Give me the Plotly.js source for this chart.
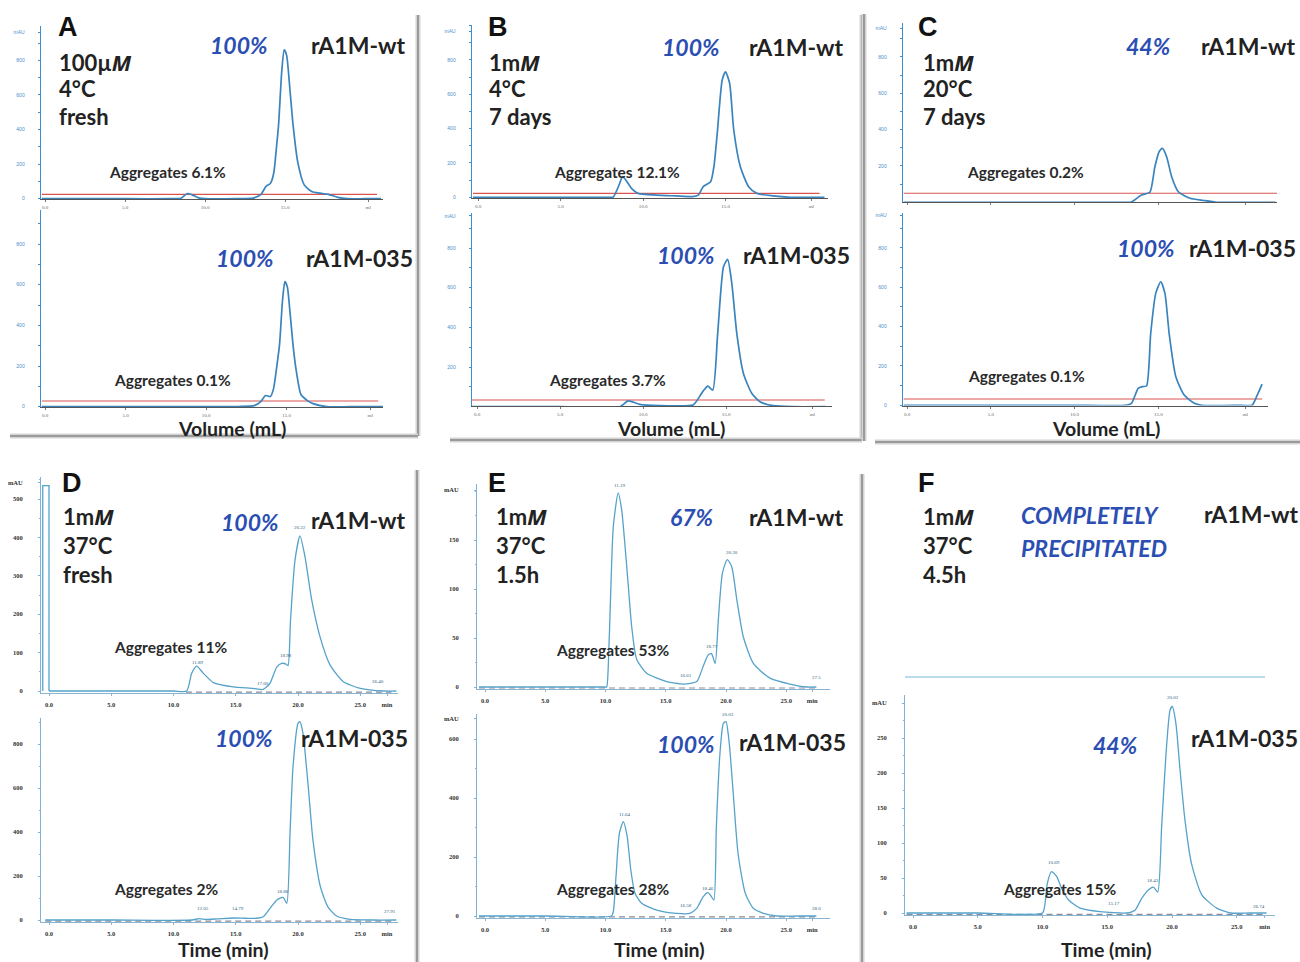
<!DOCTYPE html>
<html><head><meta charset="utf-8">
<script src="https://cdn.plot.ly/plotly-3.0.1.min.js"></script>
<style>html,body{margin:0;padding:0;background:#fff}#chart{width:1300px;height:962px}</style>
</head><body><div id="chart"></div>
<script>
// ================= DATA =================
// tick labels
const volTickVals = [0, 5, 10, 15, 20.2];
const volTickText = ['0.0', '5.0', '10.0', '15.0', 'ml'];
const timeTickVals = [0, 5, 10, 15, 20, 25, 27.15];
const timeTickText = ['0.0', '5.0', '10.0', '15.0', '20.0', '25.0', 'min'];
const yTicksVol = [0, 200, 400, 600, 800];
const yTicksD1 = [0, 100, 200, 300, 400, 500];
const yTicksD2 = [0, 200, 400, 600, 800];
const yTicksE1 = [0, 50, 100, 150];
const yTicksE2 = [0, 200, 400, 600];
const yTicksF2 = [0, 50, 100, 150, 200, 250];

// Panel A (100 µM, 4 °C, fresh) – volume (mL) vs mAU
const A1_x = [-0.2, 2, 5, 8.0, 8.5, 8.9, 9.2, 9.6, 10.0, 12.0, 13.0, 13.5, 13.8, 14.1, 14.3, 14.45, 14.6, 14.8, 14.95, 15.1, 15.3, 15.5, 15.8, 16.2, 16.7, 17.2, 17.7, 18.3, 18.9, 20, 21];
const A1_y = [0, 0, 0, 0, 2, 30, 22, 5, 0, 0, 3, 25, 70, 90, 150, 280, 430, 740, 860, 830, 640, 430, 210, 80, 40, 32, 25, 8, 0, 0, 0];
const A2_x = [-0.2, 5, 10, 12.0, 13.0, 13.4, 13.7, 14.0, 14.2, 14.4, 14.57, 14.75, 14.9, 15.05, 15.2, 15.4, 15.6, 15.9, 16.3, 16.65, 17.5, 19, 21];
const A2_y = [0, 0, 0, 1, 5, 25, 55, 50, 90, 200, 308, 520, 615, 590, 480, 308, 180, 60, 30, 15, 0, 0, 0];
// Panel B (1 mM, 4 °C, 7 days)
const B1_x = [-0.3, 5, 8.0, 8.2, 8.5, 8.77, 9.0, 9.3, 9.7, 10.8, 12.0, 13.0, 13.35, 13.65, 14.1, 14.3, 14.5, 14.8, 15.0, 15.25, 15.5, 15.9, 16.4, 16.9, 17.9, 18.9, 21];
const B1_y = [0, 0, 0, 2, 60, 120, 95, 52, 23, 13, 8, 4, 13, 62, 91, 180, 373, 683, 731, 664, 392, 178, 62, 23, 8, 0, 0];
const B2_x = [-0.3, 5, 8.6, 9.1, 9.8, 11, 13.0, 13.2, 13.6, 13.9, 14.2, 14.5, 14.85, 15.1, 15.35, 15.65, 16.05, 16.55, 17.05, 17.85, 19, 21];
const B2_y = [0, 0, 0, 29, 12, 6, 8, 25, 76, 104, 84, 371, 706, 743, 622, 370, 168, 68, 25, 5, 0, 0];
// Panel C (1 mM, 20 °C, 7 days)
const C1_x = [-0.2, 5, 10, 13.0, 13.4, 14.0, 14.5, 14.8, 15.05, 15.25, 15.5, 15.8, 16.2, 16.9, 17.7, 18.5, 20, 22];
const C1_y = [0, 0, 0, 0, 2, 40, 55, 196, 278, 297, 251, 141, 58, 22, 10, 0, 0, 0];
const C2_x = [-0.2, 5, 10, 13.0, 13.4, 13.8, 14.05, 14.3, 14.55, 14.85, 15.15, 15.4, 15.65, 16.05, 16.55, 17.15, 17.6, 20.0, 20.6, 20.9, 21.2];
const C2_y = [0, 0, 0, 0, 10, 86, 95, 98, 366, 569, 628, 569, 366, 145, 52, 10, 0, 0, 0, 50, 108];
// red reference lines (A–C)
const redA1_x = [-0.2, 20.75], redA1_y = [25, 25];
const redA2_x = [-0.2, 20.7],  redA2_y = [28, 28];
const redB1_x = [-0.3, 20.7],  redB1_y = [23, 23];
const redB2_x = [-0.3, 20.95], redB2_y = [34, 34];
const redC1_x = [-0.2, 22.3],  redC1_y = [50, 50];
const redC2_x = [-0.2, 21.2],  redC2_y = [32, 32];

// Panel D (1 mM, 37 °C, fresh) – time (min) vs mAU
const D1inj_x = [-0.5, -0.5, 0, 0];
const D1inj_y = [0, 535, 535, 0];
const D1_x = [0, 5, 10, 11.06, 11.46, 11.86, 12.4, 13.2, 14.8, 16.4, 17.2, 17.75, 18.3, 18.7, 19.04, 19.2, 19.4, 19.76, 20.16, 20.56, 21.1, 21.77, 22.57, 23.64, 25.0, 26.9, 27.9];
const D1_y = [0, 0, 0, 0, 46, 65, 46, 22, 11, 7, 4, 20, 63, 72, 70, 66, 185, 341, 404, 350, 237, 141, 68, 24, 7, 0, 0];
const D2_x = [-0.3, 5, 11.5, 12.05, 12.6, 13.5, 14.79, 15.8, 16.7, 17.2, 17.75, 18.3, 18.8, 19.1, 19.36, 19.6, 20.0, 20.16, 20.4, 20.8, 21.2, 21.8, 22.4, 23.1, 24.2, 26, 27.9];
const D2_y = [0, 0, 0, 6, 3, 5, 9, 8, 8, 15, 53, 91, 103, 76, 394, 697, 894, 901, 848, 621, 364, 151, 60, 18, 3, 0, 0];
// Panel E (1 mM, 37 °C, 1.5 h)
const E1_x = [-0.5, 5, 9.96, 10.1, 10.23, 10.43, 10.65, 11.05, 11.34, 11.6, 11.9, 12.17, 12.59, 13.42, 15.08, 16.46, 17.57, 18.1, 18.53, 18.8, 19.1, 19.36, 19.7, 20.1, 20.47, 20.9, 21.44, 22.27, 23.65, 25.3, 26.7, 27.5];
const E1_y = [0, 0, 0, 0, 21, 96, 164, 198, 181, 147, 102, 62, 28, 14, 5.5, 3, 5.5, 21, 33, 34, 24, 68, 116, 130, 123, 89, 51, 24, 9, 3, 0, 0];
const E2_x = [-0.5, 5, 10.5, 10.65, 10.87, 11.15, 11.48, 11.8, 12.1, 12.45, 13.0, 14.25, 15.9, 17.0, 17.57, 18.1, 18.5, 18.8, 19.0, 19.2, 19.5, 19.78, 20.0, 20.27, 20.6, 21.0, 21.6, 22.27, 23.1, 24.2, 26, 27.5];
const E2_y = [0, 0, 0, 15, 133, 280, 320, 269, 156, 77, 43, 20, 9, 9, 26, 65, 79, 65, 54, 303, 551, 653, 659, 585, 416, 212, 77, 26, 9, 0, 0, 0];
// Panel F (1 mM, 37 °C, 4.5 h) – only rA1M-035 trace
const F2_x = [-0.5, 5, 10.0, 10.2, 10.37, 10.7, 11.1, 11.48, 12.0, 12.9, 14.44, 16.5, 17.14, 17.66, 18.17, 18.56, 18.9, 19.2, 19.54, 19.85, 20.02, 20.3, 20.6, 21.0, 21.5, 22.3, 23.45, 24.5, 26, 27.3];
const F2_y = [0, 0, 0, 14, 42, 59, 52, 35, 19, 7, 2, 0, 4, 21, 33, 37, 30, 123, 228, 290, 295, 271, 209, 133, 71, 26, 7, 0, 0, 0];
// dashed integration baselines (D–F)
const dashD1_x = [11.0, 27.5], dashD1_y = [-3, -3];
const dashD2_x = [-0.3, 27.6], dashD2_y = [-5, -5];
const dashE1_x = [-0.5, 27.5], dashE1_y = [-1, -1];
const dashE2_x = [-0.5, 27.6], dashE2_y = [-3, -3];
const dashF2_x = [-0.5, 27.3], dashF2_y = [-2, -2];
// retention-time peak labels
const D1_pkText = ['11.89', '17.00', '18.98', '20.22', '26.40'];
const D1_pkX = [12.0, 17.2, 19.0, 20.2, 26.45];
const D1_pkY = [64, 11, 83, 417, 16];
const D2_pkText = ['12.05', '14.79', '18.88', '27.91'];
const D2_pkX = [12.4, 15.2, 18.8, 27.4];
const D2_pkY = [35, 38, 114, 23];
const E1_pkText = ['11.19', '16.61', '18.77', '20.30', '27.5'];
const E1_pkX = [11.2, 16.7, 18.8, 20.5, 27.5];
const E1_pkY = [202, 8, 38, 134, 6];
const E2_pkText = ['11.64', '16.58', '18.46', '20.03', '28.0'];
const E2_pkX = [11.6, 16.7, 18.5, 20.2, 27.5];
const E2_pkY = [333, 23, 82, 672, 15];
const F2_pkText = ['10.69', '15.17', '18.43', '20.02', '26.74'];
const F2_pkX = [10.9, 15.5, 18.56, 20.1, 26.7];
const F2_pkY = [67, 8, 41, 303, 4];

// ================= LAYOUT HELPERS =================
const W = 1300, H = 962;
const px = v => v / W;
const py = v => 1 - v / H;

// pixel calibration of each chromatogram box
const frames = [
  {k:'A1', l:41, r:383, top:26, bot:199, x0:45, xk:16.0, y0:198.7, yk:0.173, kind:'vol', xlab:true, yt:yTicksVol, mau:963,
   tr:[[A1_x, A1_y]], red:[redA1_x, redA1_y]},
  {k:'A2', l:41, r:383, top:210, bot:407, x0:45, xk:16.1, y0:406.7, yk:0.2033, kind:'vol', xlab:true, yt:yTicksVol, mau:null,
   tr:[[A2_x, A2_y]], red:[redA2_x, redA2_y]},
  {k:'B1', l:472, r:828, top:25, bot:198, x0:478, xk:16.5, y0:197.3, yk:0.1717, kind:'vol', xlab:true, yt:yTicksVol, mau:968,
   tr:[[B1_x, B1_y]], red:[redB1_x, redB1_y]},
  {k:'B2', l:472, r:832, top:213, bot:406, x0:477, xk:16.6, y0:406.7, yk:0.1983, kind:'vol', xlab:true, yt:yTicksVol, mau:962,
   tr:[[B2_x, B2_y]], red:[redB2_x, redB2_y]},
  {k:'C1', l:903, r:1277, top:23, bot:202, x0:907, xk:16.75, y0:202.3, yk:0.1817, kind:'vol', xlab:false, yt:yTicksVol, mau:959,
   tr:[[C1_x, C1_y]], red:[redC1_x, redC1_y]},
  {k:'C2', l:903, r:1268, top:213, bot:405.5, x0:907, xk:16.75, y0:405.3, yk:0.1967, kind:'vol', xlab:true, yt:yTicksVol, mau:967,
   tr:[[C2_x, C2_y]], red:[redC2_x, redC2_y]},
  {k:'D1', l:41, r:398, top:477, bot:693, x0:49, xk:12.45, y0:691, yk:0.384, kind:'time', xlab:true, yt:yTicksD1, mau:542,
   tr:[[D1inj_x, D1inj_y, 'linear'], [D1_x, D1_y]], dash:[dashD1_x, dashD1_y], pk:[D1_pkText, D1_pkX, D1_pkY]},
  {k:'D2', l:41, r:398, top:718, bot:922, x0:49, xk:12.45, y0:920, yk:0.22, kind:'time', xlab:true, yt:yTicksD2, mau:null,
   tr:[[D2_x, D2_y]], dash:[dashD2_x, dashD2_y], pk:[D2_pkText, D2_pkX, D2_pkY]},
  {k:'E1', l:477, r:830, top:484, bot:689, x0:485, xk:12.05, y0:687, yk:0.98, kind:'time', xlab:true, yt:yTicksE1, mau:201,
   tr:[[E1_x, E1_y]], dash:[dashE1_x, dashE1_y], pk:[E1_pkText, E1_pkX, E1_pkY]},
  {k:'E2', l:477, r:830, top:714, bot:918, x0:485, xk:12.05, y0:916, yk:0.295, kind:'time', xlab:true, yt:yTicksE2, mau:668,
   tr:[[E2_x, E2_y]], dash:[dashE2_x, dashE2_y], pk:[E2_pkText, E2_pkX, E2_pkY]},
  {k:'F2', l:905, r:1275, top:695, bot:915, x0:913, xk:12.95, y0:913, yk:0.70, kind:'time', xlab:true, yt:yTicksF2, mau:300,
   tr:[[F2_x, F2_y]], dash:[dashF2_x, dashF2_y], pk:[F2_pkText, F2_pkX, F2_pkY]},
];

const traces = [];
const layout = {
  width: W, height: H, autosize: false,
  margin: {l: 0, r: 0, t: 0, b: 0, pad: 0},
  paper_bgcolor: '#ffffff', plot_bgcolor: 'rgba(0,0,0,0)',
  showlegend: false, annotations: [], shapes: [],
  font: {family: 'Lato, sans-serif', color: '#222'}
};

frames.forEach((f, i) => {
  const n = i + 1;
  const xa = 'x' + (n === 1 ? '' : n), ya = 'y' + (n === 1 ? '' : n);
  const isVol = f.kind === 'vol';
  const axisBlue = isVol ? '#3d8fd0' : '#7db3d8';
  const tickFont = isVol ? {size: 5, color: '#4a8fca', family: 'Liberation Sans'} :
                           {size: 6.5, color: '#333', family: 'Liberation Serif', weight: 'bold'};
  const yvals = f.yt.slice(), ytext = f.yt.map(String);
  if (f.mau !== null) { yvals.push(f.mau); ytext.push('mAU'); }
  layout['xaxis' + (n === 1 ? '' : n)] = {
    domain: [px(f.l), px(f.r)], anchor: ya,
    range: [(f.l - f.x0) / f.xk, (f.r - f.x0) / f.xk],
    showgrid: false, zeroline: false, showline: true,
    linecolor: isVol ? '#555' : '#8ab4d0', linewidth: 1,
    ticks: 'outside', ticklen: 2, tickcolor: isVol ? '#777' : '#8ab4d0',
    tickvals: isVol ? volTickVals : timeTickVals,
    ticktext: isVol ? volTickText : timeTickText,
    showticklabels: f.xlab, tickfont: isVol ? {size: 5, color: '#666', family: 'Liberation Serif'} : tickFont,
    ticklabelstandoff: isVol ? 1 : 3, fixedrange: true
  };
  layout['yaxis' + (n === 1 ? '' : n)] = {
    domain: [py(f.bot), py(f.top)], anchor: xa,
    range: [(f.y0 - f.bot) / f.yk, (f.y0 - f.top) / f.yk],
    showgrid: false, zeroline: false, showline: true,
    linecolor: axisBlue, linewidth: isVol ? 1.3 : 1,
    ticks: 'outside', ticklen: 2, tickcolor: axisBlue,
    tickvals: yvals, ticktext: ytext, tickfont: tickFont,
    ticklabelstandoff: isVol ? 12 : 14,
    minor: {ticks: 'outside', ticklen: 1.5, tickcolor: axisBlue, dtick: isVol ? 100 : (f.yt[1] / 2)},
    fixedrange: true
  };
  if (f.red) traces.push({x: f.red[0], y: f.red[1], xaxis: xa, yaxis: ya, mode: 'lines',
                           line: {color: '#d9534f', width: 1.1}, hoverinfo: 'skip'});
  if (f.dash) traces.push({x: f.dash[0], y: f.dash[1], xaxis: xa, yaxis: ya, mode: 'lines',
                            line: {color: '#8c8c9a', width: 1.1, dash: '6px,4px'}, hoverinfo: 'skip'});
  f.tr.forEach(t => {
    traces.push({x: t[0], y: t[1], xaxis: xa, yaxis: ya, mode: 'lines',
      line: {color: isVol ? '#3a84bd' : '#55a2cb', width: isVol ? 1.7 : 1.3,
             shape: t[2] || 'spline', smoothing: 0.6}, hoverinfo: 'skip'});
  });
  if (f.pk) {
    f.pk[0].forEach((txt, j) => layout.annotations.push({
      xref: xa, yref: ya, x: f.pk[1][j], y: f.pk[2][j], text: txt, showarrow: false,
      xanchor: 'center', yanchor: 'bottom', borderpad: 0,
      font: {size: 5, color: '#2f5f80', family: 'Liberation Serif'}}));
  }
});

// ---------- texts ----------
function txt(x, y, text, font, anchor) {
  layout.annotations.push({xref: 'paper', yref: 'paper', x: px(x), y: py(y), text: text,
    showarrow: false, xanchor: anchor || 'left', yanchor: 'middle', borderpad: 0, font: font});
}
const fLetter = {family: 'Liberation Sans, Arial', size: 27, color: '#111', weight: 'bold'};
const fCond = {family: 'Lato', size: 22, color: '#222', weight: 'bold'};
const fPct = {family: 'Lato', size: 23, color: '#2b4eb3', weight: 'bold', style: 'italic'};
const fName = {family: 'Lato', size: 23, color: '#222', weight: 'bold'};
const fAgg = {family: 'Lato', size: 15.5, color: '#2a2a2a', weight: 'bold'};
const fAx = {family: 'Lato', size: 19.5, color: '#222', weight: 'bold'};
const itM = '<span style="font-style:italic;font-family:\'Open Sans\'">M</span>';

// panel letters
[['A', 57, 27], ['B', 487, 27], ['C', 917, 27], ['D', 61, 483], ['E', 487, 483], ['F', 917, 483]]
  .forEach(a => txt(a[1], a[2], a[0], fLetter));
// conditions
const condX = [58, 488, 922, 62, 495, 922];
const condY = [[62, 88, 116], [62, 88, 116], [62, 88, 116], [516, 545, 574], [516, 545, 574], [516, 545, 574]];
const condT = [['100µ' + itM, '4°C', 'fresh'], ['1m' + itM, '4°C', '7 days'], ['1m' + itM, '20°C', '7 days'],
               ['1m' + itM, '37°C', 'fresh'], ['1m' + itM, '37°C', '1.5h'], ['1m' + itM, '37°C', '4.5h']];
condT.forEach((lines, i) => lines.forEach((t, j) => txt(condX[i], condY[i][j], t, fCond)));
// percentages
[['100%', 239, 45], ['100%', 245, 258], ['100%', 691, 47], ['100%', 686, 255], ['44%', 1148, 46], ['100%', 1146, 248],
 ['100%', 250, 522], ['100%', 244, 738], ['67%', 692, 517], ['100%', 686, 744], ['44%', 1115, 745]]
  .forEach(a => txt(a[1], a[2], a[0], fPct, 'center'));
txt(1020, 515, 'COMPLETELY', fPct);
txt(1020, 548, 'PRECIPITATED', fPct);
// sample names
[['rA1M-wt', 310, 45], ['rA1M-035', 305, 258], ['rA1M-wt', 748, 47], ['rA1M-035', 742, 255],
 ['rA1M-wt', 1200, 46], ['rA1M-035', 1188, 248], ['rA1M-wt', 310, 520], ['rA1M-035', 300, 738],
 ['rA1M-wt', 748, 517], ['rA1M-035', 738, 742], ['rA1M-wt', 1203, 514], ['rA1M-035', 1190, 738]]
  .forEach(a => txt(a[1], a[2], a[0], fName));
// aggregates
[['Aggregates 6.1%', 108, 172], ['Aggregates 0.1%', 113, 380], ['Aggregates 12.1%', 553, 172], ['Aggregates 3.7%', 548, 380],
 ['Aggregates 0.2%', 966, 172], ['Aggregates 0.1%', 967, 376], ['Aggregates 11%', 113, 647], ['Aggregates 2%', 113, 889],
 ['Aggregates 53%', 555, 650], ['Aggregates 28%', 555, 889], ['Aggregates 15%', 1002, 889]]
  .forEach(a => txt(a[1], a[2], a[0], fAgg));
// axis titles
[['Volume (mL)', 232, 428], ['Volume (mL)', 671, 428], ['Volume (mL)', 1106, 428],
 ['Time (min)', 223, 949], ['Time (min)', 659, 949], ['Time (min)', 1106, 949]]
  .forEach(a => txt(a[1], a[2], a[0], fAx, 'center'));

// ---------- panel frames (drop-shadow borders) ----------
function seg(x0, y0, x1, y1, c, w) {
  layout.shapes.push({type: 'line', xref: 'paper', yref: 'paper', x0: px(x0), y0: py(y0), x1: px(x1), y1: py(y1),
    line: {color: c, width: w}});
}
[[418, 15, 418, 436], [10, 436, 418, 436], [862, 15, 862, 440], [450, 440, 862, 440],
 [864, 14, 864, 441], [875, 442, 1300, 442], [417, 470, 417, 962], [862, 474, 862, 962]]
  .forEach(s => { seg(s[0], s[1], s[2], s[3], '#d4d4d4', 5); seg(s[0], s[1], s[2], s[3], '#9a9a9a', 2); });
// remnant top border of the (empty) F rA1M-wt chromatogram
seg(905, 677, 1265, 677, '#7fb8dc', 1.2);

Plotly.newPlot('chart', traces, layout, {staticPlot: true, displayModeBar: false});
</script>
</body></html>
